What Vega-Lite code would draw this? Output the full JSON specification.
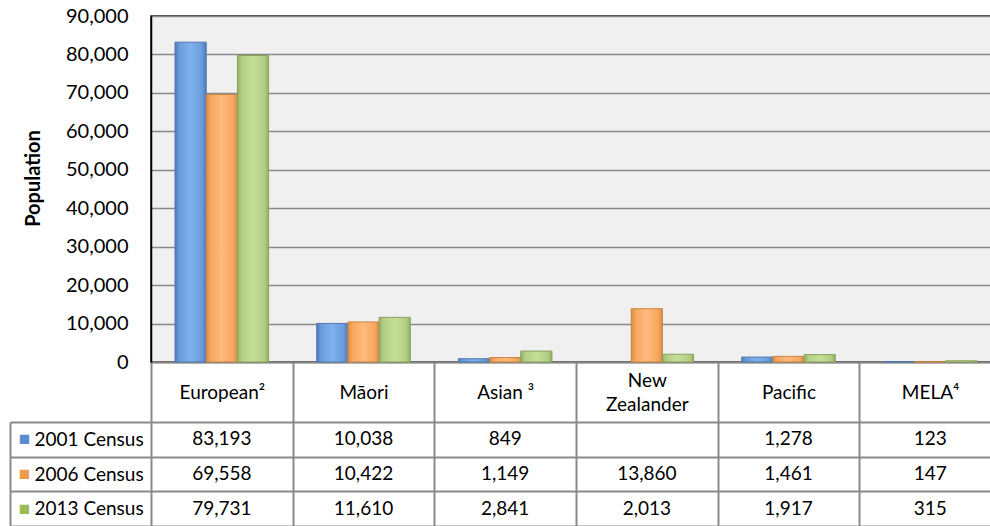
{
  "$schema": "https://vega.github.io/schema/vega-lite/v6.json",
  "background": "white",
  "padding": {"left": 9, "top": 5, "right": 0, "bottom": 0},
  "spacing": 60,
  "bounds": "flush",
  "config": {"font": "Lato", "axis": {"labelFont": "Lato", "titleFont": "Lato"}},
  "data": {"values": [
    {"category": "European²", "series": "2001 Census", "value": 83193},
    {"category": "European²", "series": "2006 Census", "value": 69558},
    {"category": "European²", "series": "2013 Census", "value": 79731},
    {"category": "Māori", "series": "2001 Census", "value": 10038},
    {"category": "Māori", "series": "2006 Census", "value": 10422},
    {"category": "Māori", "series": "2013 Census", "value": 11610},
    {"category": "Asian ³", "series": "2001 Census", "value": 849},
    {"category": "Asian ³", "series": "2006 Census", "value": 1149},
    {"category": "Asian ³", "series": "2013 Census", "value": 2841},
    {"category": "New Zealander", "series": "2006 Census", "value": 13860},
    {"category": "New Zealander", "series": "2013 Census", "value": 2013},
    {"category": "Pacific", "series": "2001 Census", "value": 1278},
    {"category": "Pacific", "series": "2006 Census", "value": 1461},
    {"category": "Pacific", "series": "2013 Census", "value": 1917},
    {"category": "MELA⁴", "series": "2001 Census", "value": 123},
    {"category": "MELA⁴", "series": "2006 Census", "value": 147},
    {"category": "MELA⁴", "series": "2013 Census", "value": 315}
  ]},
  "vconcat": [
    {
      "width": 850,
      "height": 346,
      "view": {"fill": "#f0f0f0", "stroke": "#111111", "strokeWidth": 1.5},
      "encoding": {
        "x": {
          "field": "category", "type": "nominal",
          "sort": ["European²", "Māori", "Asian ³", "New Zealander", "Pacific", "MELA⁴"],
          "scale": {"domain": ["European²", "Māori", "Asian ³", "New Zealander", "Pacific", "MELA⁴"], "paddingInner": 0, "paddingOuter": 0},
          "axis": {
            "title": null, "orient": "bottom", "tickBand": "extent", "ticks": true, "tickSize": 60,
            "tickColor": "#898989", "tickWidth": 2, "domain": true, "domainColor": "#888888", "domainWidth": 2,
            "labelPadding": {"condition": {"test": "datum.value == 'New Zealander'", "value": -42}, "value": -30},
            "labelBaseline": "middle", "labelAngle": 0, "labelFontSize": 19, "labelColor": "#000000",
            "labelOverlap": false, "labelLineHeight": 24,
            "labelExpr": "datum.value == 'New Zealander' ? ['New', 'Zealander'] : datum.value"
          }
        },
        "xOffset": {
          "field": "series", "type": "nominal",
          "scale": {"domain": ["2001 Census", "2006 Census", "2013 Census"], "paddingInner": 0, "paddingOuter": 0.77}
        },
        "y": {
          "field": "value", "type": "quantitative",
          "scale": {"domain": [0, 90000], "nice": false},
          "axis": {
            "title": "Population", "titleFontSize": 20, "titleFontWeight": "bold", "titleColor": "#000000", "titlePadding": 22,
            "titleY": 162,
            "values": [0, 10000, 20000, 30000, 40000, 50000, 60000, 70000, 80000, 90000],
            "labelExpr": "format(datum.value, ',')", "ticks": false, "labelPadding": 23, "labelFontSize": 20, "labelColor": "#000000",
            "gridColor": "#898989", "gridWidth": 1.5, "domain": true, "domainColor": "#000000", "domainWidth": 1.5
          }
        }
      },
      "layer": [
        {
          "transform": [{"filter": "datum.series == '2001 Census'"}],
          "mark": {"type": "bar", "stroke": "#4f78b0", "strokeWidth": 1,
            "color": {"gradient": "linear", "x1": 0, "x2": 1, "y1": 0, "y2": 0, "stops": [
              {"offset": 0, "color": "#4d7cbd"}, {"offset": 0.14, "color": "#6a9bdc"},
              {"offset": 0.5, "color": "#80b1ee"}, {"offset": 0.86, "color": "#6a9bdc"}, {"offset": 1, "color": "#4d7cbd"}]}}
        },
        {
          "transform": [{"filter": "datum.series == '2006 Census'"}],
          "mark": {"type": "bar", "stroke": "#c98440", "strokeWidth": 1,
            "color": {"gradient": "linear", "x1": 0, "x2": 1, "y1": 0, "y2": 0, "stops": [
              {"offset": 0, "color": "#d88b45"}, {"offset": 0.14, "color": "#f7a65f"},
              {"offset": 0.5, "color": "#ffbb7e"}, {"offset": 0.86, "color": "#f7a65f"}, {"offset": 1, "color": "#d88b45"}]}}
        },
        {
          "transform": [{"filter": "datum.series == '2013 Census'"}],
          "mark": {"type": "bar", "stroke": "#88a25a", "strokeWidth": 1,
            "color": {"gradient": "linear", "x1": 0, "x2": 1, "y1": 0, "y2": 0, "stops": [
              {"offset": 0, "color": "#94b064"}, {"offset": 0.14, "color": "#b3cf84"},
              {"offset": 0.5, "color": "#c4de98"}, {"offset": 0.86, "color": "#b3cf84"}, {"offset": 1, "color": "#94b064"}]}}
        }
      ]
    },
    {
      "width": 850,
      "height": 104,
      "view": {"stroke": null},
      "encoding": {
        "x": {
          "field": "category", "type": "nominal",
          "sort": ["European²", "Māori", "Asian ³", "New Zealander", "Pacific", "MELA⁴"],
          "scale": {"domain": ["European²", "Māori", "Asian ³", "New Zealander", "Pacific", "MELA⁴"], "paddingInner": 0, "paddingOuter": 0},
          "axis": {"title": null, "orient": "top", "labels": false, "ticks": false, "domain": false, "grid": true,
            "tickBand": "extent", "gridColor": "#898989", "gridWidth": 2}
        },
        "y": {
          "field": "series", "type": "nominal",
          "scale": {"domain": ["2001 Census", "2006 Census", "2013 Census"], "paddingInner": 0, "paddingOuter": 0}
        }
      },
      "layer": [
        {
          "mark": {"type": "text", "font": "Lato", "fontSize": 19, "color": "#000000", "baseline": "middle"},
          "encoding": {
            "text": {"field": "value", "type": "quantitative", "format": ","},
            "y": {
              "field": "series", "type": "nominal",
              "axis": {"title": null, "orient": "left", "offset": 141, "tickBand": "extent", "grid": true,
                "gridColor": "#898989", "gridWidth": 2, "ticks": true, "tickSize": -141, "tickColor": "#898989", "tickWidth": 2,
                "domain": true, "domainColor": "#898989", "domainWidth": 2,
                "labelAlign": "left", "labelPadding": 117, "labelFontSize": 19, "labelColor": "#000000"}
            }
          }
        },
        {
          "mark": {"type": "text", "opacity": 0},
          "encoding": {
            "text": {"value": ""},
            "y": {
              "field": "series", "type": "nominal",
              "axis": {"title": null, "orient": "left", "offset": 0, "grid": false, "ticks": false, "domain": false,
                "labelAlign": "center", "labelPadding": 127, "labelFontSize": 19,
                "labelExpr": "'■'",
                "labelColor": {"condition": [
                  {"test": "datum.value == '2001 Census'", "value": "#5b8bd0"},
                  {"test": "datum.value == '2006 Census'", "value": "#ee9a4f"}
                ], "value": "#9bbb59"}}
            }
          }
        }
      ],
      "resolve": {"axis": {"y": "independent"}}
    }
  ]
}
